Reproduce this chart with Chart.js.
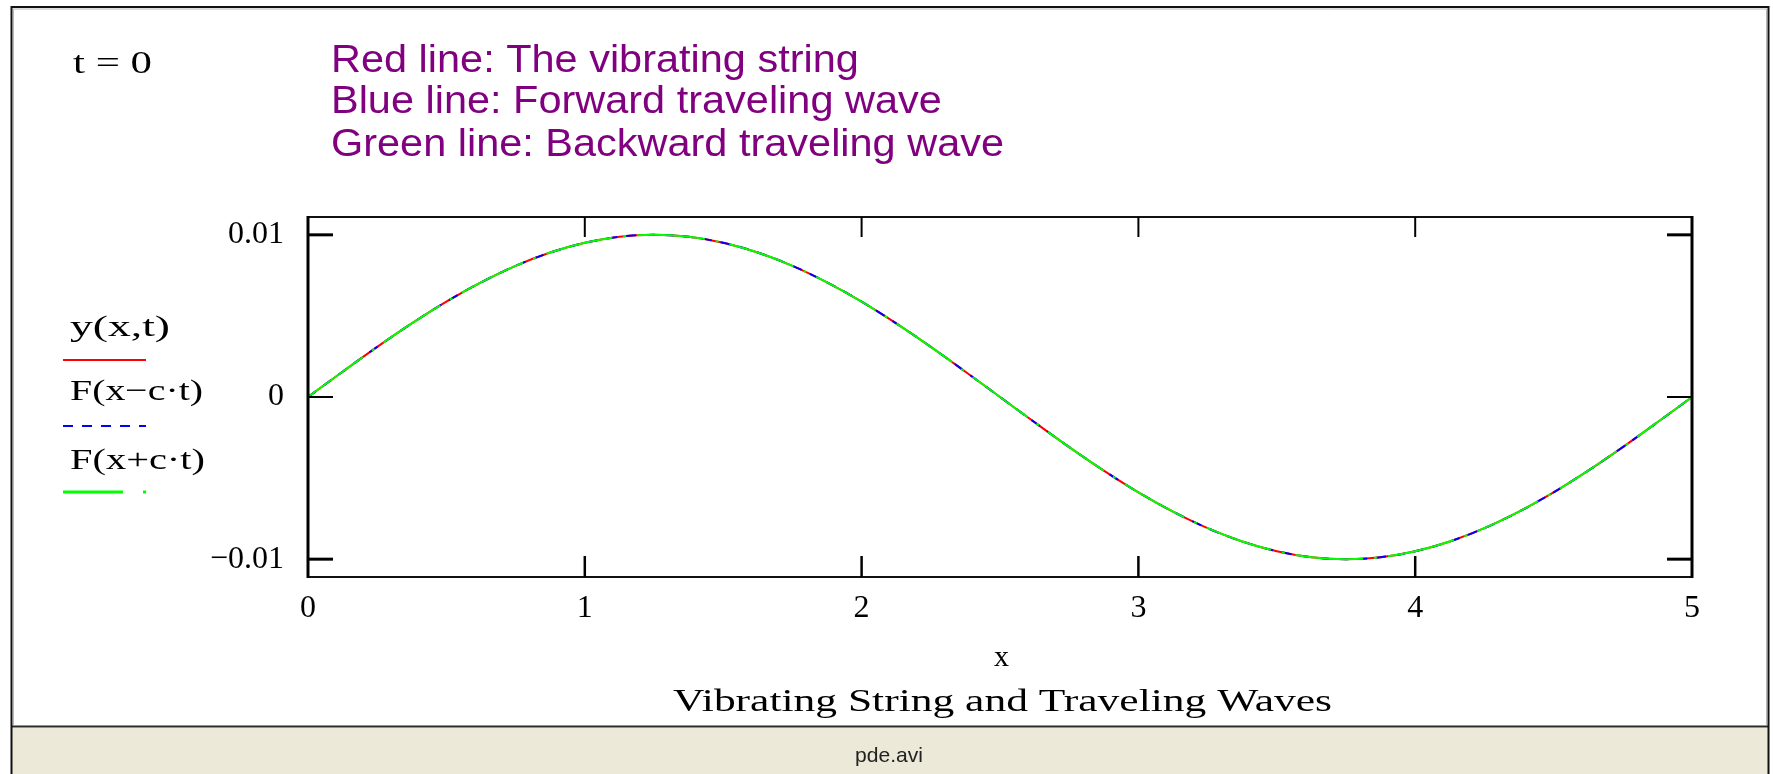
<!DOCTYPE html>
<html>
<head>
<meta charset="utf-8">
<title>Vibrating String and Traveling Waves</title>
<script src="https://cdn.jsdelivr.net/npm/chart.js@4.4.1/dist/chart.umd.min.js"></script>
<style>
  html, body { margin: 0; padding: 0; background: #ffffff; }
  #wrap { width: 1773px; height: 774px; position: relative; }
  canvas { display: block; }
</style>
</head>
<body>
<div id="wrap"><canvas id="c" width="1773" height="774"></canvas></div>
<script>
// Positions along the string
const xValues = [
  0, 0.125, 0.25, 0.375, 0.5, 0.625, 0.75, 0.875, 1, 1.125,
  1.25, 1.375, 1.5, 1.625, 1.75, 1.875, 2, 2.125, 2.25, 2.375,
  2.5, 2.625, 2.75, 2.875, 3, 3.125, 3.25, 3.375, 3.5, 3.625,
  3.75, 3.875, 4, 4.125, 4.25, 4.375, 4.5, 4.625, 4.75, 4.875, 5
];

// Displacement of the string y(x,t) at t = 0
const stringY = [
  0, 0.00156, 0.00309, 0.00454, 0.00588, 0.00707, 0.00809, 0.00891, 0.00951, 0.00988,
  0.0100, 0.00988, 0.00951, 0.00891, 0.00809, 0.00707, 0.00588, 0.00454, 0.00309, 0.00156,
  0, -0.00156, -0.00309, -0.00454, -0.00588, -0.00707, -0.00809, -0.00891, -0.00951, -0.00988,
  -0.0100, -0.00988, -0.00951, -0.00891, -0.00809, -0.00707, -0.00588, -0.00454, -0.00309, -0.00156, 0
];

// Forward traveling wave F(x - c t) at t = 0
const forwardY = [
  0, 0.00156, 0.00309, 0.00454, 0.00588, 0.00707, 0.00809, 0.00891, 0.00951, 0.00988,
  0.0100, 0.00988, 0.00951, 0.00891, 0.00809, 0.00707, 0.00588, 0.00454, 0.00309, 0.00156,
  0, -0.00156, -0.00309, -0.00454, -0.00588, -0.00707, -0.00809, -0.00891, -0.00951, -0.00988,
  -0.0100, -0.00988, -0.00951, -0.00891, -0.00809, -0.00707, -0.00588, -0.00454, -0.00309, -0.00156, 0
];

// Backward traveling wave F(x + c t) at t = 0
const backwardY = [
  0, 0.00156, 0.00309, 0.00454, 0.00588, 0.00707, 0.00809, 0.00891, 0.00951, 0.00988,
  0.0100, 0.00988, 0.00951, 0.00891, 0.00809, 0.00707, 0.00588, 0.00454, 0.00309, 0.00156,
  0, -0.00156, -0.00309, -0.00454, -0.00588, -0.00707, -0.00809, -0.00891, -0.00951, -0.00988,
  -0.0100, -0.00988, -0.00951, -0.00891, -0.00809, -0.00707, -0.00588, -0.00454, -0.00309, -0.00156, 0
];

// Axis ticks
const xTickValues = [0, 1, 2, 3, 4, 5];
const xTickLabels = ['0', '1', '2', '3', '4', '5'];
const yTickValues = [-0.01, 0, 0.01];
const yTickLabels = ['\u22120.01', '0', '0.01'];

// Texts
const timeLabel = 't = 0';
const infoLines = [
  'Red line: The vibrating string',
  'Blue line: Forward traveling wave',
  'Green line: Backward traveling wave'
];
const legendLabels = ['y(x,t)', 'F(x\u2212c\u00b7t)', 'F(x+c\u00b7t)'];
const xAxisTitle = 'x';
const chartTitle = 'Vibrating String and Traveling Waves';
const footerText = 'pde.avi';

const SERIF = '"Liberation Serif", "DejaVu Serif", serif';
const SANS = '"Liberation Sans", Arial, sans-serif';

const toPoints = (ys) => xValues.map((x, i) => ({ x: x, y: ys[i] }));

// Draw text squeezed/stretched horizontally to a given width
function fitText(ctx, text, left, cy, width, font, color) {
  ctx.save();
  ctx.font = font;
  ctx.fillStyle = color;
  ctx.textAlign = 'left';
  ctx.textBaseline = 'middle';
  const w = ctx.measureText(text).width;
  ctx.translate(left, cy);
  ctx.scale(width / w, 1);
  ctx.fillText(text, 0, 0);
  ctx.restore();
}

function line(ctx, x1, y1, x2, y2, w, color, dash) {
  ctx.save();
  ctx.strokeStyle = color;
  ctx.lineWidth = w;
  ctx.setLineDash(dash || []);
  ctx.beginPath();
  ctx.moveTo(x1, y1);
  ctx.lineTo(x2, y2);
  ctx.stroke();
  ctx.restore();
}

const decorations = {
  id: 'decorations',
  beforeDraw(chart) {
    const ctx = chart.ctx;
    ctx.save();
    ctx.fillStyle = '#ffffff';
    ctx.fillRect(0, 0, chart.width, chart.height);
    // status bar
    ctx.fillStyle = '#ECE9D8';
    ctx.fillRect(12, 728, 1757, 46);
    ctx.restore();
    line(ctx, 12, 726.5, 1769, 726.5, 2, '#2a2a2a');
    // outer frame
    line(ctx, 11, 7, 1769, 7, 2, '#111');
    line(ctx, 11.5, 6, 11.5, 774, 2, '#111');
    line(ctx, 1768.5, 6, 1768.5, 774, 2, '#111');
    line(ctx, 13, 9, 1767, 9, 1, '#b8b8b8');
    line(ctx, 13.5, 9, 13.5, 725, 1, '#b8b8b8');
    line(ctx, 1766.5, 9, 1766.5, 725, 1, '#b8b8b8');
  },
  afterDraw(chart) {
    const ctx = chart.ctx;
    const a = chart.chartArea;
    const xs = chart.scales.x, ys = chart.scales.y;

    // plot frame
    line(ctx, a.left, a.top, a.right, a.top, 2, '#111');
    line(ctx, a.left, a.bottom, a.right, a.bottom, 2, '#111');
    line(ctx, a.left, a.top - 1, a.left, a.bottom + 1, 3, '#000');
    line(ctx, a.right, a.top - 1, a.right, a.bottom + 1, 3, '#000');

    // inward ticks
    yTickValues.forEach(v => {
      const py = ys.getPixelForValue(v);
      const w = v === 0 ? 2 : 3;
      line(ctx, a.left, py, a.left + 25, py, w, '#000');
      line(ctx, a.right - 25, py, a.right, py, w, '#000');
    });
    xTickValues.forEach(v => {
      if (v === xTickValues[0] || v === xTickValues[xTickValues.length - 1]) return;
      const px = xs.getPixelForValue(v);
      line(ctx, px, a.top, px, a.top + 20, 2, '#000');
      line(ctx, px, a.bottom - 21, px, a.bottom, 2.5, '#000');
    });

    // time label and description
    fitText(ctx, timeLabel, 73, 65, 79, '31px ' + SERIF, '#000');
    ctx.save();
    ctx.font = '38px ' + SANS;
    const sx = 673 / ctx.measureText(infoLines[2]).width;
    ctx.restore();
    const infoY = [62, 103, 146];
    infoLines.forEach((t, i) => {
      ctx.save();
      ctx.font = '38px ' + SANS;
      const w = ctx.measureText(t).width * sx;
      ctx.restore();
      fitText(ctx, t, 331, infoY[i], w, '38px ' + SANS, '#800080');
    });

    // legend
    const ds = chart.data.datasets;
    fitText(ctx, legendLabels[0], 70, 328, 100, '30px ' + SERIF, '#000');
    line(ctx, 63, 360, 146, 360, 2, ds[0].borderColor);
    fitText(ctx, legendLabels[1], 70, 392, 133, '30px ' + SERIF, '#000');
    line(ctx, 63, 426, 146, 426, 2, ds[1].borderColor, [10, 9]);
    fitText(ctx, legendLabels[2], 70, 461, 135, '30px ' + SERIF, '#000');
    line(ctx, 63, 492, 147, 492, 3, ds[2].borderColor, [60, 20, 3, 20]);

    // axis title, chart title, status bar text
    fitText(ctx, xAxisTitle, 994, 658, 15, '30px ' + SERIF, '#000');
    fitText(ctx, chartTitle, 673, 703, 659, '32px ' + SERIF, '#000');
    fitText(ctx, footerText, 855, 756, 68, '21px ' + SANS, '#222');
  }
};

new Chart(document.getElementById('c'), {
  type: 'line',
  data: {
    datasets: [
      {
        label: legendLabels[0],
        data: toPoints(stringY),
        borderColor: '#ff0000',
        borderWidth: 2,
        pointRadius: 0,
        cubicInterpolationMode: 'monotone',
        order: 3
      },
      {
        label: legendLabels[1],
        data: toPoints(forwardY),
        borderColor: '#0000ff',
        borderWidth: 2,
        borderDash: [10, 9],
        pointRadius: 0,
        cubicInterpolationMode: 'monotone',
        order: 2
      },
      {
        label: legendLabels[2],
        data: toPoints(backwardY),
        borderColor: '#00ff00',
        borderWidth: 2,
        borderDash: [68, 11, 3, 11],
        pointRadius: 0,
        cubicInterpolationMode: 'monotone',
        order: 1
      }
    ]
  },
  options: {
    responsive: false,
    animation: false,
    devicePixelRatio: 1,
    layout: { padding: { top: 217, right: 81, left: 0, bottom: 0 } },
    plugins: {
      legend: { display: false },
      title: { display: false },
      tooltip: { enabled: false }
    },
    scales: {
      x: {
        type: 'linear',
        min: 0,
        max: 5,
        grid: { display: false, drawTicks: false },
        border: { display: false },
        afterBuildTicks: (s) => { s.ticks = xTickValues.map(v => ({ value: v })); },
        afterFit: (s) => { s.height = 197; },
        ticks: {
          padding: 12,
          maxRotation: 0,
          color: '#000',
          font: { family: SERIF, size: 32 },
          callback: (v) => xTickLabels[xTickValues.indexOf(v)]
        }
      },
      y: {
        type: 'linear',
        min: -0.0111,
        max: 0.0111,
        grid: { display: false, drawTicks: false },
        border: { display: false },
        afterBuildTicks: (s) => { s.ticks = yTickValues.map(v => ({ value: v })); },
        afterFit: (s) => { s.width = 308; },
        ticks: {
          padding: 24,
          color: '#000',
          font: { family: SERIF, size: 32 },
          callback: (v) => yTickLabels[yTickValues.indexOf(v)]
        }
      }
    }
  },
  plugins: [decorations]
});
</script>
</body>
</html>
